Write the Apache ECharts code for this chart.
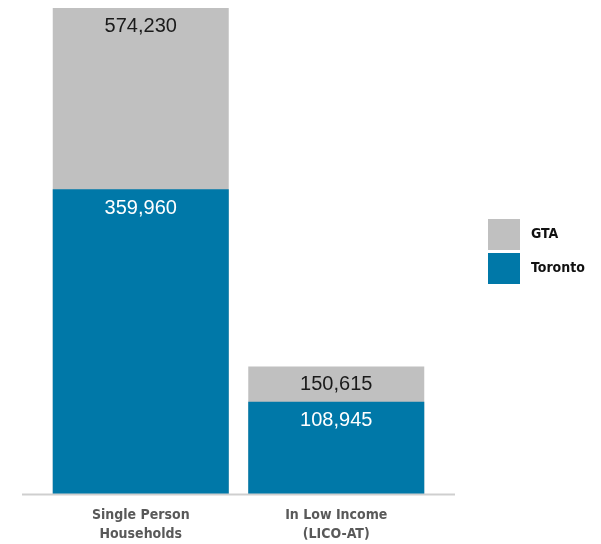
<!DOCTYPE html>
<html>
<head>
<meta charset="utf-8">
<script src="https://cdn.jsdelivr.net/npm/echarts@6/dist/echarts.min.js"></script>
<style>
  html, body { margin: 0; padding: 0; background: #fff; }
  #chart { width: 601px; height: 544px; }
</style>
</head>
<body>
<div id="chart"></div>
<script>
// 数据
const categories = ["Single Person\nHouseholds", "In Low Income\n(LICO-AT)"];
const gtaValues = [574230, 150615];
const torontoValues = [359960, 108945];

const chart = echarts.init(document.getElementById("chart"));

const fmt = (p) => p.value.toLocaleString("en-US");

const option = {
  animation: false,
  grid: { left: 43, width: 391, top: 8, bottom: 50 },
  legend: {
    orient: "vertical",
    left: 488,
    top: 219,
    padding: 0,
    itemWidth: 32,
    itemHeight: 31,
    itemGap: 3,
    icon: "rect",
    data: ["GTA", "Toronto"],
    textStyle: {
      fontFamily: "DejaVu Sans Condensed",
      fontWeight: "bold",
      fontSize: 14,
      color: "#111",
      padding: [4, 0, 0, 6]
    }
  },
  xAxis: {
    type: "category",
    data: categories,
    axisLine: { show: false },
    axisTick: { show: false },
    axisLabel: {
      margin: 12,
      fontFamily: "DejaVu Sans Condensed",
      fontWeight: "bold",
      fontSize: 14,
      lineHeight: 19,
      color: "#595959"
    }
  },
  yAxis: {
    type: "value",
    min: 0,
    max: "dataMax",
    show: false,
    splitLine: { show: false }
  },
  series: [
    {
      name: "GTA",
      type: "bar",
      data: gtaValues,
      barWidth: 176,
      barGap: "-100%",
      itemStyle: { color: "#c0c0c0" },
      label: {
        show: true,
        position: "insideTop",
        distance: 8,
        formatter: fmt,
        fontFamily: "Liberation Sans",
        fontSize: 20,
        color: "#1a1a1a"
      }
    },
    {
      name: "Toronto",
      type: "bar",
      data: torontoValues,
      barWidth: 176,
      barGap: "-100%",
      itemStyle: { color: "#0078a8" },
      label: {
        show: true,
        position: "insideTop",
        distance: 9,
        formatter: fmt,
        fontFamily: "Liberation Sans",
        fontSize: 20,
        color: "#ffffff"
      }
    }
  ],
  graphic: [
    {
      type: "line",
      shape: { x1: 22, y1: 494.5, x2: 455, y2: 494.5 },
      style: { stroke: "#cfcfcf", lineWidth: 2 },
      z: 10
    }
  ]
};

chart.setOption(option);
</script>
</body>
</html>
